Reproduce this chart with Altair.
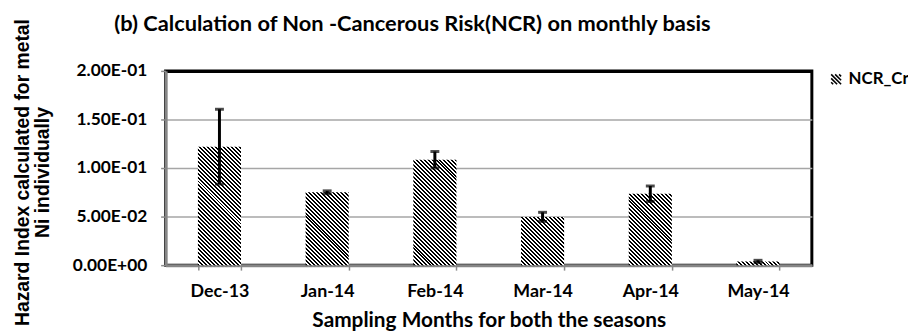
import math
import altair as alt
import pandas as pd

# ---- data ----
MONTHS = ["Dec-13", "Jan-14", "Feb-14", "Mar-14", "Apr-14", "May-14"]
NCR_CR = [0.1220, 0.0750, 0.1085, 0.0497, 0.0735, 0.0038]
NCR_ERR = [0.0385, 0.0015, 0.0085, 0.0047, 0.0080, 0.0012]
SERIES = "NCR_Cr"
Y_TICKS = [0.0, 0.05, 0.10, 0.15, 0.20]
Y_TICK_LABELS = ["0.00E+00", "5.00E-02", "1.00E-01", "1.50E-01", "2.00E-01"]

TITLE = "(b) Calculation of Non -Cancerous Risk(NCR) on monthly basis"
Y_TITLE = ["Hazard Index calculated for metal", "Ni individually"]
X_TITLE = "Sampling Months for both the seasons"

# ---- layout ----
PLOT_W, PLOT_H = 652, 196
Y_MAX = 0.2
PAD_INNER, PAD_OUTER = 0.6, 0.3
FONT = "Lato"
YFONT = "Liberation Sans"

df = pd.DataFrame({
    "month": MONTHS,
    "value": NCR_CR,
    "lo": [v - e for v, e in zip(NCR_CR, NCR_ERR)],
    "hi": [v + e for v, e in zip(NCR_CR, NCR_ERR)],
    "series": [SERIES] * len(MONTHS),
})


def hatch(w, h, period=4.0, frac=0.5):
    """Diagonal '\\' hatching as a linear gradient fitted to a w x h box."""
    r = h / w
    s = (1 + r) / (1 + r * r)
    n = (w + h) / period
    stops = []
    k = 0
    while k / n < 1:
        a = k / n
        b = min((k + frac) / n, 1.0)
        c = min((k + 1) / n, 1.0)
        stops += [
            {"offset": round(a, 5), "color": "#000000"},
            {"offset": round(b, 5), "color": "#000000"},
            {"offset": round(b, 5), "color": "#ffffff"},
            {"offset": round(c, 5), "color": "#ffffff"},
        ]
        k += 1
    return {"gradient": "linear", "x1": 0, "y1": 1, "x2": round(s, 5),
            "y2": round(1 - s * r, 5), "stops": stops}


def hatch_symbol(offsets=(-1.6, -0.8, 0.0, 0.8, 1.6)):
    """SVG path of '\\' hatch lines inside the unit symbol square [-1, 1]."""
    parts = []
    for c in offsets:
        if c >= 0:
            parts.append("M%.2f,-1L1,%.2f" % (-1 + c, 1 - c))
        else:
            parts.append("M-1,%.2fL%.2f,1" % (-1 - c, 1 + c))
    return "".join(parts)


step = PLOT_W / (len(MONTHS) - PAD_INNER + 2 * PAD_OUTER)
bar_w = step * (1 - PAD_INNER)

x_enc = alt.X(
    "month:N",
    sort=MONTHS,
    scale=alt.Scale(paddingInner=PAD_INNER, paddingOuter=PAD_OUTER),
    axis=alt.Axis(
        title=X_TITLE, tickBand="extent", labelAngle=0,
        labelFont=FONT, labelFontSize=18, labelFontWeight="bold", labelColor="black",
        labelBaseline="alphabetic", labelPadding=27, tickSize=5,
        tickColor="#8c8c8c", tickWidth=1.5,
        domainColor="#868686", domainWidth=3,
        titleFont=FONT, titleFontSize=21, titleFontWeight="bold", titleColor="black",
        titleBaseline="alphabetic", titleY=62, titleX=PLOT_W / 2,
        grid=False,
    ),
)

label_expr = "[" + ",".join("'%s'" % s for s in Y_TICK_LABELS) + "][round(datum.value/0.05)]"

y_enc = alt.Y(
    "value:Q",
    scale=alt.Scale(domain=[0, Y_MAX], nice=False),
    axis=alt.Axis(
        title=Y_TITLE, values=Y_TICKS, labelExpr=label_expr,
        labelFont=FONT, labelFontSize=17.5, labelFontWeight="bold", labelColor="black",
        labelPadding=14, tickSize=5, tickColor="#8c8c8c", tickWidth=1.5,
        domainColor="#868686", domainWidth=3,
        gridColor={"condition": {"test": "datum.value >= 0.2", "value": "black"}, "value": "#a6a6a6"},
        gridWidth={"condition": {"test": "datum.value >= 0.2", "value": 3}, "value": 1.5},
        titleFont=YFONT, titleFontSize=19.5, titleFontWeight="bold", titleColor="black",
        titleAngle=-90, titleBaseline="alphabetic", titleAlign="center",
        titleX=-138, titleY=102, titleLineHeight=20,
    ),
)

layers = []
for m, v in zip(MONTHS, NCR_CR):
    h = max(v / Y_MAX * PLOT_H, 1.0)
    layers.append(
        alt.Chart(df).transform_filter(alt.datum.month == m)
        .mark_bar(fill=hatch(bar_w, h))
        .encode(x=x_enc, y=y_enc)
    )

err_rule = alt.Chart(df).mark_rule(color="black", strokeWidth=3).encode(
    x=alt.X("month:N", sort=MONTHS), y="lo:Q", y2="hi:Q",
    opacity=alt.Opacity(
        "series:N", scale=alt.Scale(range=[1]),
        legend=alt.Legend(
            title=None, orient="none", legendX=668, legendY=0,
            symbolType=hatch_symbol(), symbolSize=100,
            symbolStrokeWidth=1.6, symbolStrokeColor="black",
            symbolFillColor="transparent", symbolOpacity=1,
            labelFont=FONT, labelFontSize=17, labelFontWeight="bold", labelColor="black",
            labelOffset=4,
        ),
    ),
)
cap_hi = alt.Chart(df).mark_tick(color="black", thickness=3, size=9).encode(
    x=alt.X("month:N", sort=MONTHS), y="hi:Q")
cap_lo = alt.Chart(df).mark_tick(color="black", thickness=3, size=9).encode(
    x=alt.X("month:N", sort=MONTHS), y="lo:Q")

chart = alt.layer(*layers, err_rule, cap_hi, cap_lo).properties(
    width=PLOT_W, height=PLOT_H,
    title=alt.TitleParams(
        TITLE, font=FONT, fontSize=22, fontWeight="bold", color="black",
        anchor="middle", frame="group", baseline="alphabetic", offset=-3, dx=-77, dy=32,
    ),
    autosize=alt.AutoSizeParams(type="none"),
    padding={"left": 159, "top": 62, "right": 97, "bottom": 69},
).configure_view(stroke="black", strokeWidth=3)

chart.save("out.html", embed_options={"renderer": "svg", "actions": False})
